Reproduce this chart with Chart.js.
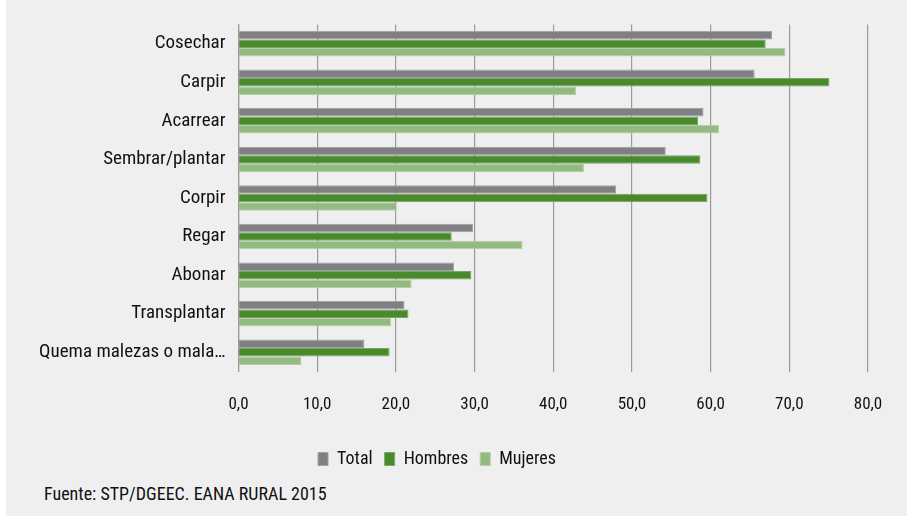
<!DOCTYPE html>
<html>
<head>
<meta charset="utf-8">
<script src="https://cdn.jsdelivr.net/npm/chart.js@4"></script>
<style>
  html, body { margin: 0; padding: 0; background: #ffffff; }
  #wrap { position: absolute; left: 6px; top: 0; width: 901px; height: 516px; background: #efefef; }
  #box { position: absolute; left: 0; top: 0; width: 901px; height: 478px; }
  #fuente { position: absolute; left: 38px; top: 483px; font-family: "Liberation Sans Narrow", "Roboto Condensed", "DejaVu Sans Condensed", sans-serif; font-size: 18px; color: #111; }
</style>
</head>
<body>
<div id="wrap">
  <div id="box"><canvas id="chart"></canvas></div>
  <div id="fuente">Fuente: STP/DGEEC. EANA RURAL 2015</div>
</div>
<script>
let categories = ['Cosechar', 'Carpir', 'Acarrear', 'Sembrar/plantar', 'Corpir', 'Regar', 'Abonar', 'Transplantar', 'Quema malezas o mala…']
let total = [67.8, 65.6, 59.1, 54.3, 48.0, 29.8, 27.4, 21.1, 16.0]
let hombres = [67.0, 75.1, 58.4, 58.7, 59.6, 27.1, 29.6, 21.6, 19.2]
let mujeres = [69.5, 42.9, 61.1, 43.9, 20.1, 36.1, 22.0, 19.4, 8.0]

const FONT = '"Liberation Sans Narrow", "Roboto Condensed", "DejaVu Sans Condensed", sans-serif'

document.addEventListener('DOMContentLoaded', () => {
  let canvas = document.getElementById('chart')
  new Chart(canvas, {
    type: 'bar',
    data: {
      labels: categories,
      datasets: [
        { label: 'Total', data: total, backgroundColor: '#808084', borderColor: '#a3a3a6', borderWidth: 1 },
        { label: 'Hombres', data: hombres, backgroundColor: '#4a8a2c', borderColor: '#76a862', borderWidth: 1 },
        { label: 'Mujeres', data: mujeres, backgroundColor: '#93ba80', borderColor: '#b3cfa6', borderWidth: 1 }
      ]
    },
    options: {
      indexAxis: 'y',
      responsive: true,
      maintainAspectRatio: false,
      animation: false,
      datasets: { bar: { categoryPercentage: 0.66, barPercentage: 1.0 } },
      layout: { padding: { top: 16, right: 39, bottom: 0, left: 0 } },
      scales: {
        x: {
          min: 0,
          max: 80,
          ticks: {
            stepSize: 10,
            padding: 23,
            color: '#111',
            font: { family: FONT, size: 17 },
            callback: function (v) { return v.toFixed(1).replace('.', ',') }
          },
          grid: { color: '#9a9a9a', lineWidth: 1.2, drawTicks: false },
          border: { display: false }
        },
        y: {
          ticks: { padding: 13, color: '#111', font: { family: FONT, size: 19 } },
          grid: { display: false, drawTicks: false },
          border: { color: '#9a9a9a', width: 1.2 },
          afterFit: function (scale) { scale.width = 232.5 }
        }
      },
      plugins: {
        legend: {
          position: 'bottom',
          labels: {
            boxWidth: 10,
            boxHeight: 13,
            padding: 12,
            color: '#111',
            font: { family: FONT, size: 18 }
          }
        },
        tooltip: { enabled: false }
      }
    }
  })
})
</script>
</body>
</html>
